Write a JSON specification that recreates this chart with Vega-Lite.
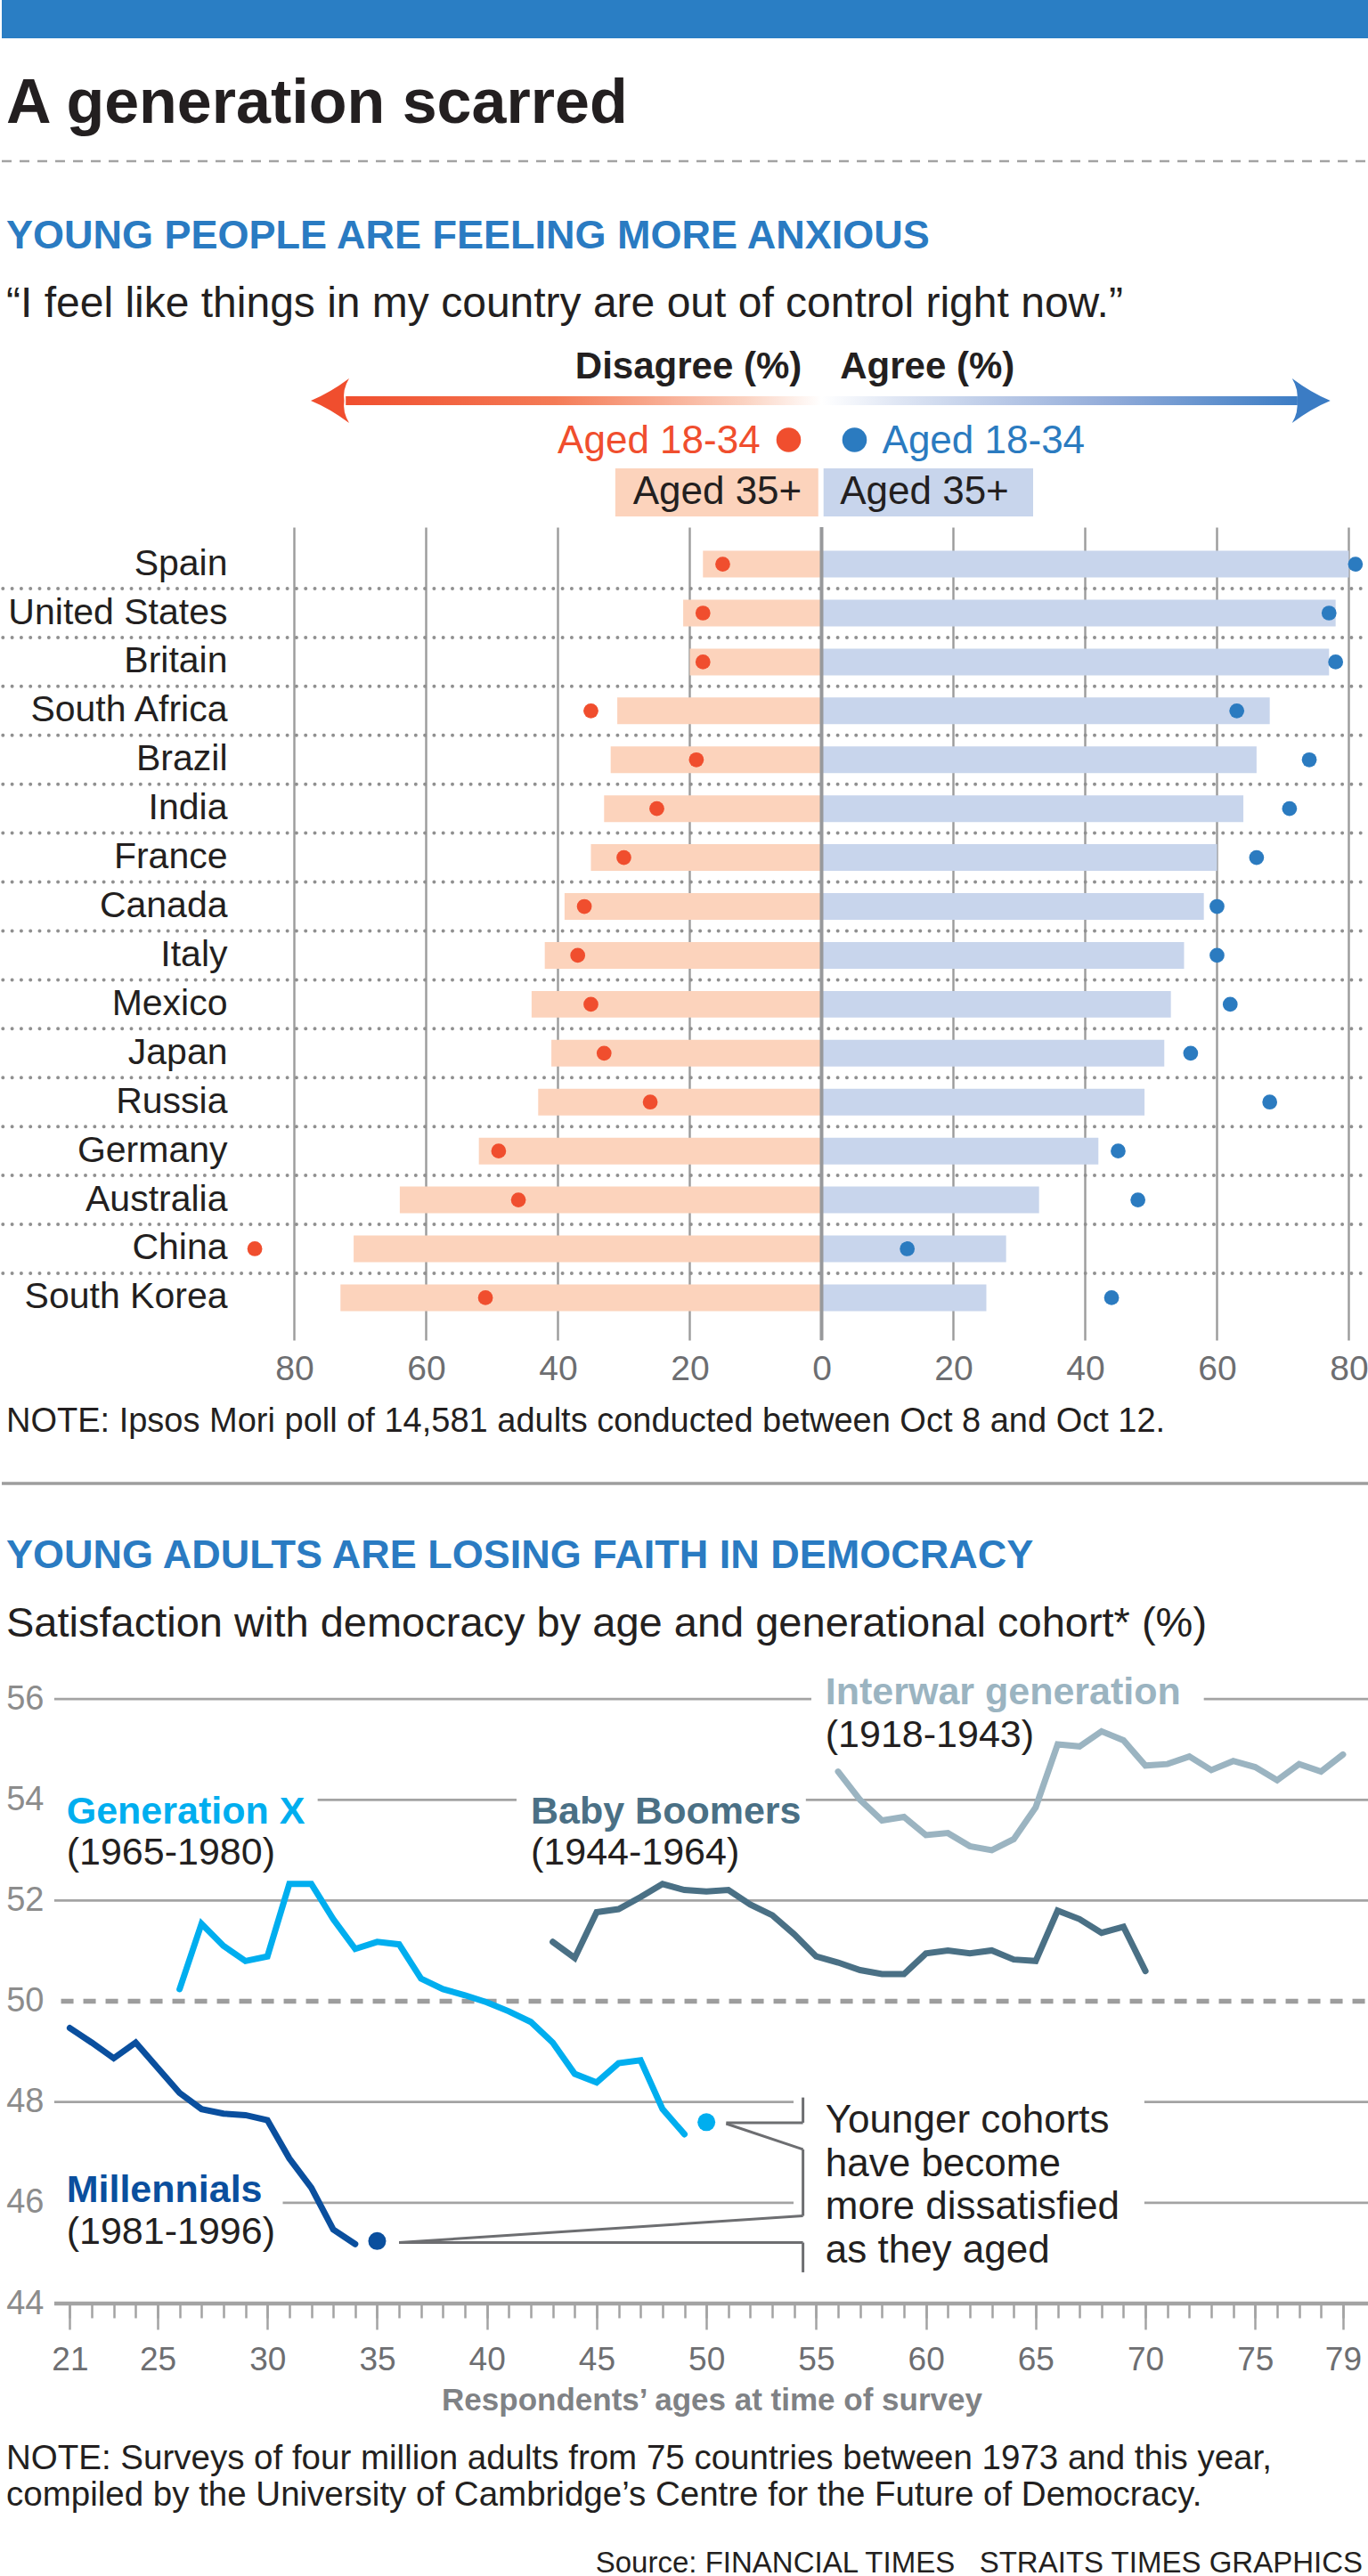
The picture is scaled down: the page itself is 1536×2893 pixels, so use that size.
{
  "$schema": "https://vega.github.io/schema/vega-lite/v6.json",
  "padding": 0,
  "spacing": 0,
  "bounds": "flush",
  "background": "#ffffff",
  "resolve": {"scale": {"x": "independent", "y": "independent", "color": "independent"}},
  "config": {"view": {"stroke": null}, "font": "Liberation Sans"},
  "datasets": {
    "poll": [
      {"country": "Spain", "disagree_35_plus": -18, "disagree_18_34": -15, "agree_35_plus": 80, "agree_18_34": 81},
      {"country": "United States", "disagree_35_plus": -21, "disagree_18_34": -18, "agree_35_plus": 78, "agree_18_34": 77},
      {"country": "Britain", "disagree_35_plus": -20, "disagree_18_34": -18, "agree_35_plus": 77, "agree_18_34": 78},
      {"country": "South Africa", "disagree_35_plus": -31, "disagree_18_34": -35, "agree_35_plus": 68, "agree_18_34": 63},
      {"country": "Brazil", "disagree_35_plus": -32, "disagree_18_34": -19, "agree_35_plus": 66, "agree_18_34": 74},
      {"country": "India", "disagree_35_plus": -33, "disagree_18_34": -25, "agree_35_plus": 64, "agree_18_34": 71},
      {"country": "France", "disagree_35_plus": -35, "disagree_18_34": -30, "agree_35_plus": 60, "agree_18_34": 66},
      {"country": "Canada", "disagree_35_plus": -39, "disagree_18_34": -36, "agree_35_plus": 58, "agree_18_34": 60},
      {"country": "Italy", "disagree_35_plus": -42, "disagree_18_34": -37, "agree_35_plus": 55, "agree_18_34": 60},
      {"country": "Mexico", "disagree_35_plus": -44, "disagree_18_34": -35, "agree_35_plus": 53, "agree_18_34": 62},
      {"country": "Japan", "disagree_35_plus": -41, "disagree_18_34": -33, "agree_35_plus": 52, "agree_18_34": 56},
      {"country": "Russia", "disagree_35_plus": -43, "disagree_18_34": -26, "agree_35_plus": 49, "agree_18_34": 68},
      {"country": "Germany", "disagree_35_plus": -52, "disagree_18_34": -49, "agree_35_plus": 42, "agree_18_34": 45},
      {"country": "Australia", "disagree_35_plus": -64, "disagree_18_34": -46, "agree_35_plus": 33, "agree_18_34": 48},
      {"country": "China", "disagree_35_plus": -71, "disagree_18_34": -86, "agree_35_plus": 28, "agree_18_34": 13},
      {"country": "South Korea", "disagree_35_plus": -73, "disagree_18_34": -51, "agree_35_plus": 25, "agree_18_34": 44}
    ],
    "cohorts": [
      {"cohort": "Millennials", "age": 21, "satisfaction": 49.47},
      {"cohort": "Millennials", "age": 22, "satisfaction": 49.18},
      {"cohort": "Millennials", "age": 23, "satisfaction": 48.87},
      {"cohort": "Millennials", "age": 24, "satisfaction": 49.18},
      {"cohort": "Millennials", "age": 25, "satisfaction": 48.68},
      {"cohort": "Millennials", "age": 26, "satisfaction": 48.18},
      {"cohort": "Millennials", "age": 27, "satisfaction": 47.86},
      {"cohort": "Millennials", "age": 28, "satisfaction": 47.77},
      {"cohort": "Millennials", "age": 29, "satisfaction": 47.74},
      {"cohort": "Millennials", "age": 30, "satisfaction": 47.64},
      {"cohort": "Millennials", "age": 31, "satisfaction": 46.88},
      {"cohort": "Millennials", "age": 32, "satisfaction": 46.3},
      {"cohort": "Millennials", "age": 33, "satisfaction": 45.47},
      {"cohort": "Millennials", "age": 34, "satisfaction": 45.18},
      {"cohort": "Generation X", "age": 26, "satisfaction": 50.24},
      {"cohort": "Generation X", "age": 27, "satisfaction": 51.54},
      {"cohort": "Generation X", "age": 28, "satisfaction": 51.1},
      {"cohort": "Generation X", "age": 29, "satisfaction": 50.8},
      {"cohort": "Generation X", "age": 30, "satisfaction": 50.89},
      {"cohort": "Generation X", "age": 31, "satisfaction": 52.33},
      {"cohort": "Generation X", "age": 32, "satisfaction": 52.33},
      {"cohort": "Generation X", "age": 33, "satisfaction": 51.63},
      {"cohort": "Generation X", "age": 34, "satisfaction": 51.04},
      {"cohort": "Generation X", "age": 35, "satisfaction": 51.18},
      {"cohort": "Generation X", "age": 36, "satisfaction": 51.13},
      {"cohort": "Generation X", "age": 37, "satisfaction": 50.45},
      {"cohort": "Generation X", "age": 38, "satisfaction": 50.24},
      {"cohort": "Generation X", "age": 39, "satisfaction": 50.12},
      {"cohort": "Generation X", "age": 40, "satisfaction": 49.98},
      {"cohort": "Generation X", "age": 41, "satisfaction": 49.8},
      {"cohort": "Generation X", "age": 42, "satisfaction": 49.59},
      {"cohort": "Generation X", "age": 43, "satisfaction": 49.18},
      {"cohort": "Generation X", "age": 44, "satisfaction": 48.56},
      {"cohort": "Generation X", "age": 45, "satisfaction": 48.39},
      {"cohort": "Generation X", "age": 46, "satisfaction": 48.77},
      {"cohort": "Generation X", "age": 47, "satisfaction": 48.83},
      {"cohort": "Generation X", "age": 48, "satisfaction": 47.86},
      {"cohort": "Generation X", "age": 49, "satisfaction": 47.36},
      {"cohort": "Baby Boomers", "age": 43, "satisfaction": 51.18},
      {"cohort": "Baby Boomers", "age": 44, "satisfaction": 50.86},
      {"cohort": "Baby Boomers", "age": 45, "satisfaction": 51.77},
      {"cohort": "Baby Boomers", "age": 46, "satisfaction": 51.83},
      {"cohort": "Baby Boomers", "age": 47, "satisfaction": 52.07},
      {"cohort": "Baby Boomers", "age": 48, "satisfaction": 52.33},
      {"cohort": "Baby Boomers", "age": 49, "satisfaction": 52.21},
      {"cohort": "Baby Boomers", "age": 50, "satisfaction": 52.18},
      {"cohort": "Baby Boomers", "age": 51, "satisfaction": 52.21},
      {"cohort": "Baby Boomers", "age": 52, "satisfaction": 51.92},
      {"cohort": "Baby Boomers", "age": 53, "satisfaction": 51.71},
      {"cohort": "Baby Boomers", "age": 54, "satisfaction": 51.33},
      {"cohort": "Baby Boomers", "age": 55, "satisfaction": 50.89},
      {"cohort": "Baby Boomers", "age": 56, "satisfaction": 50.77},
      {"cohort": "Baby Boomers", "age": 57, "satisfaction": 50.62},
      {"cohort": "Baby Boomers", "age": 58, "satisfaction": 50.54},
      {"cohort": "Baby Boomers", "age": 59, "satisfaction": 50.54},
      {"cohort": "Baby Boomers", "age": 60, "satisfaction": 50.95},
      {"cohort": "Baby Boomers", "age": 61, "satisfaction": 51.01},
      {"cohort": "Baby Boomers", "age": 62, "satisfaction": 50.95},
      {"cohort": "Baby Boomers", "age": 63, "satisfaction": 51.01},
      {"cohort": "Baby Boomers", "age": 64, "satisfaction": 50.83},
      {"cohort": "Baby Boomers", "age": 65, "satisfaction": 50.8},
      {"cohort": "Baby Boomers", "age": 66, "satisfaction": 51.8},
      {"cohort": "Baby Boomers", "age": 67, "satisfaction": 51.63},
      {"cohort": "Baby Boomers", "age": 68, "satisfaction": 51.36},
      {"cohort": "Baby Boomers", "age": 69, "satisfaction": 51.48},
      {"cohort": "Baby Boomers", "age": 70, "satisfaction": 50.6},
      {"cohort": "Interwar generation", "age": 56, "satisfaction": 54.56},
      {"cohort": "Interwar generation", "age": 57, "satisfaction": 54.0},
      {"cohort": "Interwar generation", "age": 58, "satisfaction": 53.59},
      {"cohort": "Interwar generation", "age": 59, "satisfaction": 53.66},
      {"cohort": "Interwar generation", "age": 60, "satisfaction": 53.3},
      {"cohort": "Interwar generation", "age": 61, "satisfaction": 53.34},
      {"cohort": "Interwar generation", "age": 62, "satisfaction": 53.08},
      {"cohort": "Interwar generation", "age": 63, "satisfaction": 53.0},
      {"cohort": "Interwar generation", "age": 64, "satisfaction": 53.22},
      {"cohort": "Interwar generation", "age": 65, "satisfaction": 53.85},
      {"cohort": "Interwar generation", "age": 66, "satisfaction": 55.1},
      {"cohort": "Interwar generation", "age": 67, "satisfaction": 55.06},
      {"cohort": "Interwar generation", "age": 68, "satisfaction": 55.36},
      {"cohort": "Interwar generation", "age": 69, "satisfaction": 55.18},
      {"cohort": "Interwar generation", "age": 70, "satisfaction": 54.68},
      {"cohort": "Interwar generation", "age": 71, "satisfaction": 54.71},
      {"cohort": "Interwar generation", "age": 72, "satisfaction": 54.86},
      {"cohort": "Interwar generation", "age": 73, "satisfaction": 54.59},
      {"cohort": "Interwar generation", "age": 74, "satisfaction": 54.77},
      {"cohort": "Interwar generation", "age": 75, "satisfaction": 54.65},
      {"cohort": "Interwar generation", "age": 76, "satisfaction": 54.39},
      {"cohort": "Interwar generation", "age": 77, "satisfaction": 54.71},
      {"cohort": "Interwar generation", "age": 78, "satisfaction": 54.56},
      {"cohort": "Interwar generation", "age": 79, "satisfaction": 54.9}
    ],
    "cohort_ends": [
      {"cohort": "Millennials", "age": 35, "satisfaction": 45.24},
      {"cohort": "Generation X", "age": 50, "satisfaction": 47.6}
    ],
    "grid": [
      {"gridline_value": 56, "from_age": 20.29, "to_age": 54.78},
      {"gridline_value": 56, "from_age": 72.66, "to_age": 80.22},
      {"gridline_value": 54, "from_age": 32.29, "to_age": 41.35},
      {"gridline_value": 54, "from_age": 54.53, "to_age": 80.22},
      {"gridline_value": 52, "from_age": 20.29, "to_age": 80.22},
      {"gridline_value": 48, "from_age": 20.29, "to_age": 53.97},
      {"gridline_value": 48, "from_age": 69.95, "to_age": 80.22},
      {"gridline_value": 46, "from_age": 30.7, "to_age": 53.97},
      {"gridline_value": 46, "from_age": 69.95, "to_age": 80.22}
    ],
    "connectors": [
      {"from_age": 54.4, "from_value": 48.09, "to_age": 54.4, "to_value": 47.59},
      {"from_age": 50.9, "from_value": 47.59, "to_age": 54.4, "to_value": 47.59},
      {"from_age": 50.9, "from_value": 47.57, "to_age": 54.4, "to_value": 47.06},
      {"from_age": 54.4, "from_value": 47.06, "to_age": 54.4, "to_value": 45.74},
      {"from_age": 36.0, "from_value": 45.21, "to_age": 54.4, "to_value": 45.74},
      {"from_age": 36.0, "from_value": 45.21, "to_age": 54.4, "to_value": 45.21},
      {"from_age": 54.4, "from_value": 45.21, "to_age": 54.4, "to_value": 44.62}
    ]
  },
  "vconcat": [
    {
      "width": 1536, "height": 43,
      "data": {"values": [{"part": "top band"}]},
      "mark": {"type": "rect", "color": "#2a7ec4"},
      "encoding": {
        "x": {"datum": 0, "type": "quantitative", "scale": {"domain": [0, 1]}, "axis": null},
        "x2": {"datum": 1}
      }
    },
    {
      "width": 1536, "height": 95,
      "data": {"values": [{"t": "A generation scarred"}]},
      "mark": {"type": "text", "align": "left", "baseline": "alphabetic", "dx": 5, "fontSize": 70, "fontWeight": "bold", "color": "#231f20"},
      "encoding": {"x": {"value": 0}, "y": {"value": "height"}, "text": {"field": "t"}}
    },
    {
      "width": 1536, "height": 43,
      "data": {"values": [{"part": "divider"}]},
      "mark": {"type": "rule", "color": "#a3a3a3", "strokeWidth": 2.5, "strokeDash": [11, 9]},
      "encoding": {"x": {"value": 0}, "x2": {"value": "width"}, "y": {"value": "height"}}
    },
    {
      "width": 1536, "height": 98,
      "data": {"values": [{"t": "YOUNG PEOPLE ARE FEELING MORE ANXIOUS"}]},
      "mark": {"type": "text", "align": "left", "baseline": "alphabetic", "dx": 5, "fontSize": 45, "fontWeight": "bold", "color": "#2a7bc2"},
      "encoding": {"x": {"value": 0}, "y": {"value": "height"}, "text": {"field": "t"}}
    },
    {
      "width": 1536, "height": 77,
      "data": {"values": [{"t": "“I feel like things in my country are out of control right now.”"}]},
      "mark": {"type": "text", "align": "left", "baseline": "alphabetic", "dx": 5, "fontSize": 48, "color": "#231f20"},
      "encoding": {"x": {"value": 0}, "y": {"value": "height"}, "text": {"field": "t"}}
    },
    {
      "width": 1536, "height": 69,
      "data": {"values": [{}]},
      "layer": [
        {
          "mark": {"type": "text", "align": "right", "baseline": "alphabetic", "fontSize": 42, "fontWeight": "bold", "color": "#231f20"},
          "encoding": {
            "x": {"datum": -3, "type": "quantitative", "scale": {"domain": [-124.39, 83.18], "nice": false, "zero": false}, "axis": null},
            "y": {"value": "height"},
            "text": {"value": "Disagree (%)"}
          }
        },
        {
          "mark": {"type": "text", "align": "left", "baseline": "alphabetic", "fontSize": 42, "fontWeight": "bold", "color": "#231f20"},
          "encoding": {
            "x": {"datum": 2.8, "type": "quantitative"},
            "y": {"value": "height"},
            "text": {"value": "Agree (%)"}
          }
        }
      ]
    },
    {"width": 1536, "height": 20, "data": {"values": []}, "mark": "point"},
    {
      "width": 1536, "height": 10,
      "data": {"values": [{}]},
      "layer": [
        {
          "mark": {
            "type": "rect",
            "color": {
              "gradient": "linear", "x1": 0, "x2": 1, "y1": 0, "y2": 0,
              "stops": [
                {"offset": 0, "color": "#f04e2e"},
                {"offset": 0.22, "color": "#f47b56"},
                {"offset": 0.42, "color": "#fbd3c2"},
                {"offset": 0.5, "color": "#ffffff"},
                {"offset": 0.58, "color": "#dfe6f4"},
                {"offset": 0.8, "color": "#93acd9"},
                {"offset": 1, "color": "#3b7cc4"}
              ]
            }
          },
          "encoding": {
            "x": {"datum": -72.2, "type": "quantitative", "scale": {"domain": [-124.39, 83.18], "nice": false, "zero": false}, "axis": null},
            "x2": {"datum": 72.2}
          }
        },
        {
          "mark": {"type": "point", "shape": "M0,0 Q0.85,-0.35 1.72,-1 Q1.42,-0.5 1.5,0 Q1.42,0.5 1.72,1 Q0.85,0.35 0,0 Z", "size": 2500, "filled": true, "opacity": 1, "strokeWidth": 0, "color": "#f04e2e"},
          "encoding": {"x": {"datum": -77.5, "type": "quantitative"}}
        },
        {
          "mark": {"type": "point", "shape": "M0,0 Q-0.85,-0.35 -1.72,-1 Q-1.42,-0.5 -1.5,0 Q-1.42,0.5 -1.72,1 Q-0.85,0.35 0,0 Z", "size": 2500, "filled": true, "opacity": 1, "strokeWidth": 0, "color": "#3b7cc4"},
          "encoding": {"x": {"datum": 77.2, "type": "quantitative"}}
        }
      ]
    },
    {"width": 1536, "height": 24, "data": {"values": []}, "mark": "point"},
    {
      "width": 1536, "height": 30,
      "data": {"values": [{}]},
      "layer": [
        {
          "mark": {"type": "text", "align": "right", "baseline": "alphabetic", "fontSize": 44, "color": "#f04e2e"},
          "encoding": {
            "x": {"datum": -9.3, "type": "quantitative", "scale": {"domain": [-124.39, 83.18], "nice": false, "zero": false}, "axis": null},
            "y": {"value": "height"},
            "text": {"value": "Aged 18-34"}
          }
        },
        {
          "mark": {"type": "circle", "size": 760, "opacity": 1, "color": "#f04e2e"},
          "encoding": {"x": {"datum": -5, "type": "quantitative"}}
        },
        {
          "mark": {"type": "circle", "size": 760, "opacity": 1, "color": "#2b7bc0"},
          "encoding": {"x": {"datum": 5, "type": "quantitative"}}
        },
        {
          "mark": {"type": "text", "align": "left", "baseline": "alphabetic", "fontSize": 44, "color": "#2b7bc0"},
          "encoding": {
            "x": {"datum": 9.2, "type": "quantitative"},
            "y": {"value": "height"},
            "text": {"value": "Aged 18-34"}
          }
        }
      ]
    },
    {"width": 1536, "height": 17, "data": {"values": []}, "mark": "point"},
    {
      "width": 1536, "height": 54,
      "data": {"values": [{}]},
      "layer": [
        {
          "mark": {"type": "rect", "color": "#fcd3bc"},
          "encoding": {
            "x": {"datum": -31.3, "type": "quantitative", "scale": {"domain": [-124.39, 83.18], "nice": false, "zero": false}, "axis": null},
            "x2": {"datum": -0.5}
          }
        },
        {
          "mark": {"type": "rect", "color": "#c8d5ec"},
          "encoding": {"x": {"datum": 0.3, "type": "quantitative"}, "x2": {"datum": 32.1}}
        },
        {
          "mark": {"type": "text", "align": "right", "baseline": "middle", "fontSize": 44, "color": "#231f20"},
          "encoding": {"x": {"datum": -3, "type": "quantitative"}, "text": {"value": "Aged 35+"}}
        },
        {
          "mark": {"type": "text", "align": "left", "baseline": "middle", "fontSize": 44, "color": "#231f20"},
          "encoding": {"x": {"datum": 2.8, "type": "quantitative"}, "text": {"value": "Aged 35+"}}
        }
      ]
    },
    {"width": 1536, "height": 11.7, "data": {"values": []}, "mark": "point"},
    {
      "width": 1536, "height": 912.9,
      "data": {"name": "poll"},
      "layer": [
        {
          "transform": [{"filter": "datum.country !== 'Spain'"}],
          "mark": {"type": "rule", "color": "#909090", "strokeWidth": 4, "strokeDash": [0, 10.3], "strokeCap": "round", "yOffset": -12.5},
          "encoding": {
            "y": {
              "field": "country", "type": "nominal", "sort": null, "bandPosition": 0,
              "scale": {
                "domain": ["Spain", "United States", "Britain", "South Africa", "Brazil", "India", "France", "Canada", "Italy", "Mexico", "Japan", "Russia", "Germany", "Australia", "China", "South Korea"],
                "paddingInner": 0.454, "paddingOuter": 0.538, "align": 0.45
              },
              "axis": {
                "orient": "left", "offset": -253, "domain": false, "ticks": false, "tickSize": 0, "labelPadding": 0,
                "labelFontSize": 41, "labelColor": "#231f20", "labelLimit": 400, "title": null
              }
            }
          }
        },
        {
          "mark": {"type": "bar", "color": "#fcd3bc"},
          "encoding": {
            "y": {"field": "country", "type": "nominal", "sort": null},
            "x": {
              "field": "disagree_35_plus", "type": "quantitative",
              "scale": {"domain": [-124.39, 83.18], "nice": false, "zero": false},
              "axis": {
                "values": [-80, -60, -40, -20, 0, 20, 40, 60, 80],
                "labelExpr": "abs(datum.value)",
                "grid": true, "gridColor": "#9b9b9b", "gridWidth": 2.4,
                "domain": false, "ticks": false, "tickSize": 0,
                "labelPadding": 14, "labelFontSize": 39,
                "labelColor": "#6d6e71", "labelFlush": false, "labelOverlap": false, "title": null
              }
            },
            "x2": {"datum": 0}
          }
        },
        {
          "mark": {"type": "bar", "color": "#c8d5ec"},
          "encoding": {
            "y": {"field": "country", "type": "nominal", "sort": null},
            "x": {"field": "agree_35_plus", "type": "quantitative"},
            "x2": {"datum": 0}
          }
        },
        {
          "data": {"values": [{}]},
          "mark": {"type": "rule", "color": "#98999b", "strokeWidth": 4},
          "encoding": {"x": {"datum": 0, "type": "quantitative"}}
        },
        {
          "mark": {"type": "circle", "size": 280, "opacity": 1, "color": "#f04e2e"},
          "encoding": {
            "y": {"field": "country", "type": "nominal", "sort": null},
            "x": {"field": "disagree_18_34", "type": "quantitative"}
          }
        },
        {
          "mark": {"type": "circle", "size": 280, "opacity": 1, "color": "#2b7bc0"},
          "encoding": {
            "y": {"field": "country", "type": "nominal", "sort": null},
            "x": {"field": "agree_18_34", "type": "quantitative"}
          }
        }
      ]
    },
    {
      "width": 1536, "height": 103.4,
      "data": {"values": [{"t": "NOTE: Ipsos Mori poll of 14,581 adults conducted between Oct 8 and Oct 12."}]},
      "mark": {"type": "text", "align": "left", "baseline": "alphabetic", "dx": 5, "fontSize": 38, "color": "#231f20"},
      "encoding": {"x": {"value": 0}, "y": {"value": "height"}, "text": {"field": "t"}}
    },
    {
      "width": 1536, "height": 57,
      "data": {"values": [{"part": "section rule"}]},
      "mark": {"type": "rule", "color": "#9d9d9d", "strokeWidth": 3.3},
      "encoding": {"x": {"value": 0}, "x2": {"value": "width"}, "y": {"value": "height"}}
    },
    {
      "width": 1536, "height": 95,
      "data": {"values": [{"t": "YOUNG ADULTS ARE LOSING FAITH IN DEMOCRACY"}]},
      "mark": {"type": "text", "align": "left", "baseline": "alphabetic", "dx": 5, "fontSize": 45, "fontWeight": "bold", "color": "#2a7bc2"},
      "encoding": {"x": {"value": 0}, "y": {"value": "height"}, "text": {"field": "t"}}
    },
    {
      "width": 1536, "height": 77,
      "data": {"values": [{"t": "Satisfaction with democracy by age and generational cohort* (%)"}]},
      "mark": {"type": "text", "align": "left", "baseline": "alphabetic", "dx": 5, "fontSize": 47, "color": "#231f20"},
      "encoding": {"x": {"value": 0}, "y": {"value": "height"}, "text": {"field": "t"}}
    },
    {
      "width": 1536, "height": 749,
      "resolve": {"axis": {"x": "independent"}},
      "layer": [
        {
          "layer": [
            {
              "data": {"name": "grid"},
              "mark": {"type": "rule", "color": "#a3a3a3", "strokeWidth": 2.7},
              "encoding": {
                "x": {
                  "field": "from_age", "type": "quantitative",
                  "scale": {"domain": [17.9, 80.22], "nice": false, "zero": false},
                  "axis": {
                    "orient": "bottom",
                    "values": [21, 25, 30, 35, 40, 45, 50, 55, 60, 65, 70, 75, 79],
                    "tickSize": 29, "tickColor": "#a3a3a3", "tickWidth": 2.5,
                    "domain": false, "grid": false,
                    "labelFontSize": 37, "labelColor": "#6d6e71",
                    "labelPadding": 16, "labelFlush": false, "labelOverlap": false,
                    "title": "Respondents’ ages at time of survey",
                    "titleFontSize": 35, "titleFontWeight": "bold",
                    "titleColor": "#808285", "titlePadding": 10, "titleX": 797
                  }
                },
                "x2": {"field": "to_age"},
                "y": {
                  "field": "gridline_value", "type": "quantitative",
                  "scale": {"domain": [44, 57.24], "nice": false, "zero": false},
                  "axis": {
                    "values": [44, 46, 48, 50, 52, 54, 56], "format": "d", "offset": -47,
                    "domain": false, "ticks": false, "tickSize": 0, "labelPadding": 0, "grid": false,
                    "labelFontSize": 38, "labelColor": "#8c8c8c", "title": null
                  }
                }
              }
            },
            {
              "data": {"values": [{}]},
              "mark": {"type": "rule", "color": "#9d9d9d", "strokeWidth": 5.5, "strokeDash": [14, 11]},
              "encoding": {"x": {"datum": 20.6, "type": "quantitative"}, "x2": {"datum": 80.22}, "y": {"datum": 50, "type": "quantitative"}}
            },
            {
              "data": {"name": "cohorts"},
              "mark": {"type": "line", "strokeWidth": 7, "strokeJoin": "miter", "strokeCap": "round"},
              "encoding": {
                "x": {"field": "age", "type": "quantitative"},
                "y": {"field": "satisfaction", "type": "quantitative"},
                "color": {
                  "field": "cohort", "type": "nominal",
                  "scale": {"domain": ["Millennials", "Generation X", "Baby Boomers", "Interwar generation"], "range": ["#0a4f9e", "#00aeef", "#4a7085", "#9bb4c1"]},
                  "legend": null
                }
              }
            },
            {
              "data": {"name": "cohort_ends"},
              "mark": {"type": "circle", "size": 400, "opacity": 1},
              "encoding": {
                "x": {"field": "age", "type": "quantitative"},
                "y": {"field": "satisfaction", "type": "quantitative"},
                "color": {"field": "cohort", "type": "nominal", "legend": null}
              }
            },
            {
              "data": {"name": "connectors"},
              "mark": {"type": "rule", "color": "#6d6e71", "strokeWidth": 3},
              "encoding": {
                "x": {"field": "from_age", "type": "quantitative"},
                "x2": {"field": "to_age"},
                "y": {"field": "from_value", "type": "quantitative"},
                "y2": {"field": "to_value"}
              }
            },
            {
              "data": {"values": [{}]},
              "mark": {"type": "text", "align": "left", "baseline": "alphabetic", "fontSize": 43, "fontWeight": "bold", "color": "#9bb4c1"},
              "encoding": {"x": {"datum": 55.42, "type": "quantitative"}, "y": {"datum": 55.9, "type": "quantitative"}, "text": {"value": "Interwar generation"}}
            },
            {
              "data": {"values": [{}]},
              "mark": {"type": "text", "align": "left", "baseline": "alphabetic", "fontSize": 43, "color": "#231f20"},
              "encoding": {"x": {"datum": 55.42, "type": "quantitative"}, "y": {"datum": 55.04, "type": "quantitative"}, "text": {"value": "(1918-1943)"}}
            },
            {
              "data": {"values": [{}]},
              "mark": {"type": "text", "align": "left", "baseline": "alphabetic", "fontSize": 43, "fontWeight": "bold", "color": "#00aeef"},
              "encoding": {"x": {"datum": 20.85, "type": "quantitative"}, "y": {"datum": 53.53, "type": "quantitative"}, "text": {"value": "Generation X"}}
            },
            {
              "data": {"values": [{}]},
              "mark": {"type": "text", "align": "left", "baseline": "alphabetic", "fontSize": 43, "color": "#231f20"},
              "encoding": {"x": {"datum": 20.85, "type": "quantitative"}, "y": {"datum": 52.72, "type": "quantitative"}, "text": {"value": "(1965-1980)"}}
            },
            {
              "data": {"values": [{}]},
              "mark": {"type": "text", "align": "left", "baseline": "alphabetic", "fontSize": 43, "fontWeight": "bold", "color": "#4a7085"},
              "encoding": {"x": {"datum": 42.0, "type": "quantitative"}, "y": {"datum": 53.53, "type": "quantitative"}, "text": {"value": "Baby Boomers"}}
            },
            {
              "data": {"values": [{}]},
              "mark": {"type": "text", "align": "left", "baseline": "alphabetic", "fontSize": 43, "color": "#231f20"},
              "encoding": {"x": {"datum": 42.0, "type": "quantitative"}, "y": {"datum": 52.72, "type": "quantitative"}, "text": {"value": "(1944-1964)"}}
            },
            {
              "data": {"values": [{}]},
              "mark": {"type": "text", "align": "left", "baseline": "alphabetic", "fontSize": 43, "fontWeight": "bold", "color": "#0a4f9e"},
              "encoding": {"x": {"datum": 20.85, "type": "quantitative"}, "y": {"datum": 46.01, "type": "quantitative"}, "text": {"value": "Millennials"}}
            },
            {
              "data": {"values": [{}]},
              "mark": {"type": "text", "align": "left", "baseline": "alphabetic", "fontSize": 43, "color": "#231f20"},
              "encoding": {"x": {"datum": 20.85, "type": "quantitative"}, "y": {"datum": 45.18, "type": "quantitative"}, "text": {"value": "(1981-1996)"}}
            },
            {
              "data": {"values": [{}]},
              "mark": {"type": "text", "align": "left", "baseline": "alphabetic", "fontSize": 44, "lineHeight": 48.5, "color": "#231f20"},
              "encoding": {
                "x": {"datum": 55.42, "type": "quantitative"},
                "y": {"datum": 47.39, "type": "quantitative"},
                "text": {"value": ["Younger cohorts", "have become", "more dissatisfied", "as they aged"]}
              }
            }
          ]
        },
        {
          "data": {"values": [{}]},
          "mark": {"type": "rule", "color": "#a3a3a3", "strokeWidth": 4.3},
          "encoding": {
            "x": {
              "datum": 20.29, "type": "quantitative",
              "axis": {
                "orient": "bottom",
                "values": [21, 22, 23, 24, 25, 26, 27, 28, 29, 30, 31, 32, 33, 34, 35, 36, 37, 38, 39, 40, 41, 42, 43, 44, 45, 46, 47, 48, 49, 50, 51, 52, 53, 54, 55, 56, 57, 58, 59, 60, 61, 62, 63, 64, 65, 66, 67, 68, 69, 70, 71, 72, 73, 74, 75, 76, 77, 78, 79],
                "tickSize": 16, "tickColor": "#a3a3a3", "tickWidth": 2.5,
                "domain": false, "grid": false, "labels": false, "title": null
              }
            },
            "x2": {"datum": 80.22},
            "y": {"datum": 44, "type": "quantitative"}
          }
        }
      ]
    },
    {
      "width": 1536, "height": 186,
      "data": {"values": [{"part": "note"}]},
      "mark": {"type": "text", "align": "left", "baseline": "alphabetic", "dx": 5, "fontSize": 38.5, "lineHeight": 41, "color": "#231f20"},
      "encoding": {
        "x": {"value": 0}, "y": {"value": "height"},
        "text": {"value": ["NOTE: Surveys of four million adults from 75 countries between 1973 and this year,", "compiled by the University of Cambridge’s Centre for the Future of Democracy."]}
      }
    },
    {
      "width": 1536, "height": 116,
      "data": {"values": [{"t": "Source: FINANCIAL TIMES\u00a0\u00a0\u00a0STRAITS TIMES GRAPHICS"}]},
      "mark": {"type": "text", "align": "right", "baseline": "alphabetic", "dx": -8, "fontSize": 33, "color": "#231f20"},
      "encoding": {"x": {"value": "width"}, "y": {"value": "height"}, "text": {"field": "t"}}
    }
  ]
}
